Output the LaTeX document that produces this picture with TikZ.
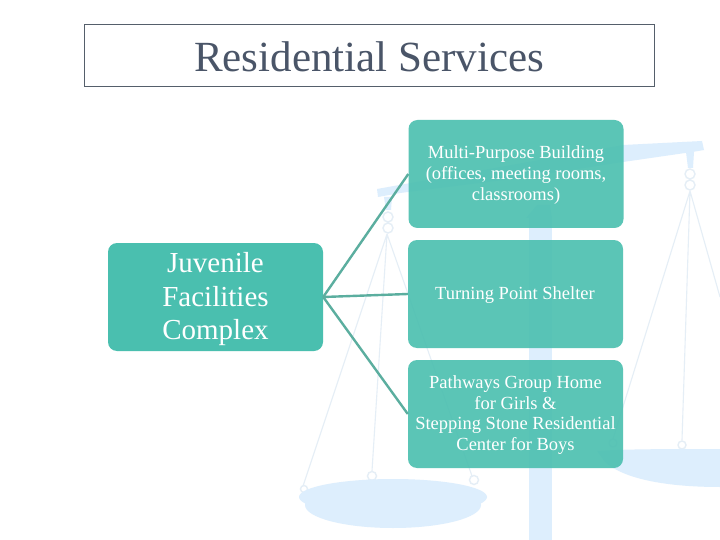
\documentclass[tikz,border=0pt]{standalone}
\usepackage{fontspec}
\setmainfont{Liberation Serif}
\definecolor{teal1}{HTML}{4ABFAF}
\definecolor{link}{HTML}{5BAE9F}
\definecolor{scale}{HTML}{DDEEFD}
\definecolor{scalethin}{HTML}{E5EEF6}
\definecolor{titlec}{HTML}{4A5568}
\definecolor{framec}{HTML}{555F6B}
\tikzset{
  x=1pt,y=-1pt,
  rootbox/.style={fill=teal1,rounded corners=9pt,minimum width=215pt,minimum height=108pt,inner sep=0pt,text=white,align=center,font=\fontsize{29}{33.5}\selectfont},
  childbox/.style={fill=teal1,fill opacity=0.9,text opacity=1,rounded corners=9pt,minimum width=215pt,minimum height=108pt,inner sep=0pt,text=white,align=center,font=\fontsize{18.5}{20.8}\selectfont},
  connector/.style={draw=link,line width=2.4pt},
  titlebox/.style={draw=framec,line width=0.9pt,minimum width=570pt,minimum height=62pt,inner sep=0pt},
  titletext/.style={text=titlec,font=\fontsize{43}{47}\selectfont},
  thin part/.style={draw=scalethin,line width=1.1pt},
  ring/.style={draw=scalethin,line width=1.4pt},
  solid part/.style={fill=scale,draw=none},
}
\begin{document}
\begin{tikzpicture}
\useasboundingbox (0,0) rectangle (720,540);
\fill[white] (0,0) rectangle (720,540);
% scales
\fill[solid part] (529,218) -- (552,218) -- (552,540) -- (529,540) -- cycle;
\fill[solid part] (526,218) -- (537,205) -- (550,205) -- (552,218) -- cycle;
\fill[solid part] (377,189) -- (623,145) -- (702,141) -- (704,150) -- (692,152) -- (623,162) -- (520,178) -- (400,193) -- (378,197) -- cycle;
% left chain and strings
\fill[solid part] (384,197) -- (392,197) -- (391,210) -- (386,210) -- cycle;
\draw[ring] (388,217) circle (5) (388,228) circle (5);
\draw[thin part] (387,234) -- (303,486) (387,234) -- (372,471) (387,234) -- (472,476);
\draw[ring] (304,489) circle (3.5) (372,476) circle (4.5) (474,480) circle (4.5);
% right chain and strings
\fill[solid part] (686,152) -- (694,152) -- (693,168) -- (688,168) -- cycle;
\draw[ring] (690,174) circle (5) (690,185) circle (5);
\draw[thin part] (690,191) -- (613,439) (690,191) -- (682,440) (690,191) -- (720,297);
\draw[ring] (613,443) circle (4) (682,445) circle (4);
% pans
\fill[solid part] (393,497) ellipse [x radius=94,y radius=18];
\fill[solid part] (393,505) ellipse [x radius=88,y radius=23];
\fill[solid part] (597,451) .. controls (625,449) and (670,449) .. (720,449) -- (720,487) .. controls (670,487) and (625,480) .. (605,462) -- cycle;
% diagram
\node[titlebox] (title) at (369,55) {};
\node[titletext] (titlelabel) at (369,57) {Residential Services};
\node[rootbox] (root) at (215.5,297) {};
\node[rootbox,fill=none] (rootlabel) at (215.5,299.5) {Juvenile\\Facilities\\Complex};
\node[childbox] (a) at (516,174) {};
\node[childbox] (b) at (515.5,294) {};
\node[childbox] (c) at (515.5,414) {};
\draw[connector] (root.east) -- (a.west);
\draw[connector] (root.east) -- (b.west);
\draw[connector] (root.east) -- (c.west);
\node[childbox,fill=none] (alabel) at (516,175) {Multi-Purpose Building\\(offices, meeting rooms,\\classrooms)};
\node[childbox,fill=none] (blabel) at (515,295) {Turning Point Shelter};
\node[childbox,fill=none] (clabel) at (515.5,415) {Pathways Group Home\\for Girls \&\\Stepping Stone Residential\\Center for Boys};
\end{tikzpicture}
\end{document}
